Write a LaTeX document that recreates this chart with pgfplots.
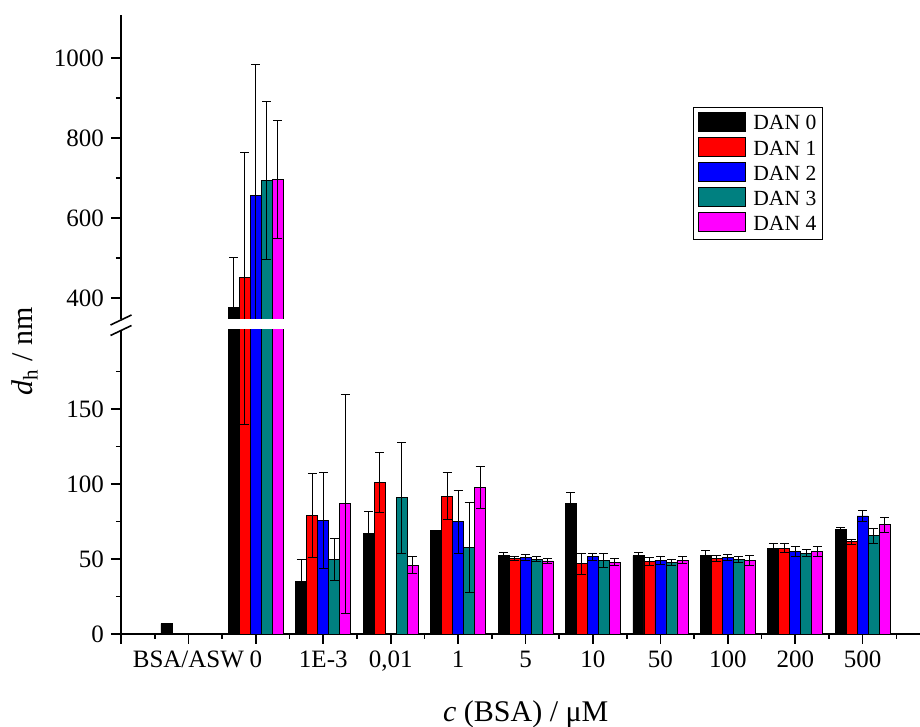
\documentclass[border=0pt]{standalone}
\usepackage{fontspec}
\setmainfont{Liberation Serif}
\usepackage{pgfplots}
\usepackage{pgfplotstable}
\pgfplotsset{compat=1.18}

\definecolor{danteal}{RGB}{0,128,128}
\definecolor{danmag}{RGB}{255,0,255}
\definecolor{danred}{RGB}{255,0,0}
\definecolor{danblue}{RGB}{0,0,255}

% x: 1 = BSA/ASW, 2 = 0, 3 = 1E-3, ... 11 = 500
\pgfplotstableread{
x  d0   e0   d1    e1   d2   e2   d3   e3   d4   e4
1  7    0    nan   nan  nan  nan  nan  nan  nan  nan
2  378  123  452   312  657  328  694  198  696  147
3  35   15   79    28   76   32   50   14   87   73
4  67   15   101   20   nan  nan  91   37   46   5.7
5  69   0    92    15.5 75   21   58   30   98   14
6  52.4 1.8  50.2  1.2  51.1 2    49.8 1.7  48.7 1.5
7  87   7.3  47    7    51.5 2.3  49   4.4  48   2.3
8  52.2 2    48.2  2.7  49.3 2.7  47.8 2.2  49.3 2.2
9  52.4 3.4  50.2  2    51.1 2    49.8 2    48.9 3.5
10 57.3 3    57.1  3    54.9 3.2  54   2.1  54.9 3.5
11 69.8 1.3  61.5  1.5  78.7 3.6  65.6 5    72.9 5
}\dls

\pgfplotsset{
  dlsbase/.style={
    scale only axis, width=399.5pt, height=152pt,
    xmin=0, xmax=11.85,
    ybar,
    bar width=0.1632,
    axis line style={line width=1pt},
    tick align=outside, major tick length=5pt, minor tick length=2.5pt,
    tick style={black, line width=0.8pt},
    tick label style={font=\fontsize{12.5}{15}\selectfont},
    /pgf/number format/assume math mode=true,
    /pgf/number format/1000 sep={},
    error bars/y dir=both, error bars/y explicit,
    error bars/error bar style={black, line width=0.5pt},
    error bars/error mark options={black, line width=0.5pt, mark size=2.25pt, rotate=90},
    legend image code/.code={\draw[#1] (0pt,-3.5pt) rectangle (23.5pt,6pt);},
  },
  dan/.style={draw=black, line width=0.4pt, fill=#1},
}

\begin{document}
\begin{tikzpicture}
\path[use as bounding box] (-60.5pt,-46.5pt) rectangle (399.5pt,317pt);

% lower part, 0 .. 200
\begin{axis}[dlsbase,
  at={(0pt,0pt)}, anchor=south west,
  ymin=0, ymax=202.7,
  axis x line*=bottom, axis y line*=left,
  xtick={0,...,11},
  xticklabels={,BSA/ASW,0,1E-3,{0,01},1,5,10,50,100,200,500},
  minor xtick={0.5,1.5,...,11.5},
  ytick={0,50,100,150},
  minor ytick={25,75,125,175},
]
\addplot[dan=black, bar shift=-0.3264] table[x=x, y=d0, y error=e0] {\dls};
\addplot[dan=danred, bar shift=-0.1632] table[x=x, y=d1, y error=e1] {\dls};
\addplot[dan=danblue, bar shift=0] table[x=x, y=d2, y error=e2] {\dls};
\addplot[dan=danteal, bar shift=0.1632] table[x=x, y=d3, y error=e3] {\dls};
\addplot[dan=danmag, bar shift=0.3264] table[x=x, y=d4, y error=e4] {\dls};
\end{axis}

% upper part, 350 .. 1100
\begin{axis}[dlsbase,
  at={(0pt,157.5pt)}, anchor=south west,
  ymin=348, ymax=1108,
  restrict y to domain=340:2000,
  axis x line=none, axis y line*=left,
  ytick={400,600,800,1000},
  minor ytick={500,700,900},
  legend style={at={(0.716,0.696)}, anchor=north west,
    draw=black, line width=0.5pt, inner sep=2pt,
    font=\fontsize{10.8}{12}\selectfont,
    nodes={inner sep=1pt}, row sep=1pt, column sep=3pt},
  legend cell align=left,
]
\addplot[dan=black, bar shift=-0.3264] table[x=x, y=d0, y error=e0] {\dls};
\addplot[dan=danred, bar shift=-0.1632] table[x=x, y=d1, y error=e1] {\dls};
\addplot[dan=danblue, bar shift=0] table[x=x, y=d2, y error=e2] {\dls};
\addplot[dan=danteal, bar shift=0.1632] table[x=x, y=d3, y error=e3] {\dls};
\addplot[dan=danmag, bar shift=0.3264] table[x=x, y=d4, y error=e4] {\dls};
\legend{DAN 0, DAN 1, DAN 2, DAN 3, DAN 4}
\end{axis}

% axis break marks
\draw[line width=0.8pt] (-5.25pt,154.5pt) -- (5.25pt,159.5pt);
\draw[line width=0.8pt] (-5.25pt,149.25pt) -- (5.25pt,154.25pt);

\node[rotate=90, anchor=base, font=\fontsize{15}{18}\selectfont]
  at (-44pt,141.5pt) {\textit{d}\textsubscript{h} / nm};
\node[anchor=base, font=\fontsize{15}{18}\selectfont]
  at (202.4pt,-43.9pt) {\textit{c} (BSA) / μM};
\end{tikzpicture}
\end{document}
